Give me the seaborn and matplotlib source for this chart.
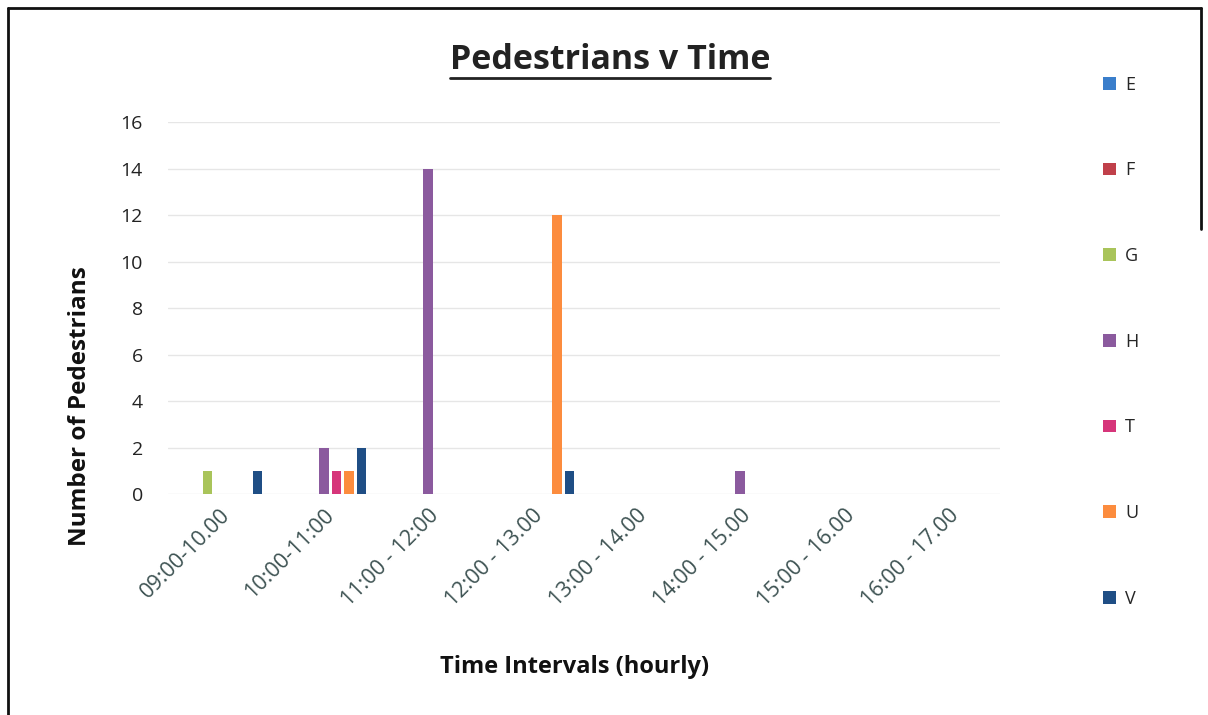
import pandas as pd
import seaborn as sns
import matplotlib.pyplot as plt
from matplotlib.lines import Line2D

# -----------------------------
# Data
# -----------------------------
intervals = ["09:00-10.00", "10:00-11:00", "11:00 - 12:00", "12:00 - 13.00",
             "13:00 - 14.00", "14:00 - 15.00", "15:00 - 16.00", "16:00 - 17.00"]
series = ["E", "F", "G", "H", "T", "U", "V"]

E = [0, 0, 0, 0, 0, 0, 0, 0]
F = [0, 0, 0, 0, 0, 0, 0, 0]
G = [1, 0, 0, 0, 0, 0, 0, 0]
H = [0, 2, 14, 0, 0, 1, 0, 0]
T = [0, 1, 0, 0, 0, 0, 0, 0]
U = [0, 1, 0, 12, 0, 0, 0, 0]
V = [1, 2, 0, 1, 0, 0, 0, 0]

colors = ["#3a7ecb", "#c0404a", "#a9c45a", "#8b5a9e", "#d6357a", "#fc8c3e", "#1f4e85"]

df = pd.DataFrame({"interval": intervals, "E": E, "F": F, "G": G, "H": H,
                   "T": T, "U": U, "V": V})
long_df = df.melt(id_vars="interval", var_name="series", value_name="count")

# -----------------------------
# Plot
# -----------------------------
sns.set_theme(style="white")
plt.rcParams["font.family"] = ["Open Sans", "DejaVu Sans"]

fig = plt.figure(figsize=(12.08, 7.15), dpi=100)
ax = fig.add_axes([0.139, 0.309, 0.689, 0.52])

sns.barplot(
    data=long_df, x="interval", y="count", hue="series",
    order=intervals, hue_order=series, palette=colors, saturation=1,
    width=0.84, gap=0.22, ax=ax, legend=True, linewidth=0,
)

ax.set_ylim(0, 16)
ax.set_yticks(range(0, 17, 2))
ax.yaxis.grid(True, color="#e6e6e6", linewidth=1)
ax.set_axisbelow(True)
sns.despine(ax=ax, left=True, bottom=True)

ax.tick_params(axis="y", labelsize=14, colors="#222222", pad=18, length=0)
ax.tick_params(axis="x", labelsize=15.5, colors="#3d5252", length=0, pad=8)
plt.setp(ax.get_xticklabels(), rotation=45, ha="right", rotation_mode="anchor")

ax.set_xlabel("Time Intervals (hourly)", fontsize=17, fontweight="bold",
              color="#111111")
ax.set_ylabel("Number of Pedestrians", fontsize=17.5, fontweight="bold",
              color="#111111")
ax.xaxis.set_label_coords(0.489, -0.433)
ax.yaxis.set_label_coords(-0.091, 0.237)

handles, labels = ax.get_legend_handles_labels()
ax.get_legend().remove()
fig.legend(handles, labels, loc="upper left", bbox_to_anchor=(0.9, 0.917),
           frameon=False, fontsize=13, labelspacing=3.75,
           handlelength=0.7, handleheight=0.7, handletextpad=0.5)

title = fig.text(0.505, 0.916, "Pedestrians v Time", ha="center", va="center",
                 fontsize=24.5, fontweight="bold", color="#222222")

# underline the title
fig.canvas.draw()
bb = title.get_window_extent(fig.canvas.get_renderer()).transformed(fig.transFigure.inverted())
fig.add_artist(Line2D([bb.x0, bb.x1], [bb.y0 - 0.001, bb.y0 - 0.001],
                      transform=fig.transFigure, color="#222222", linewidth=2))

# scanned page border
fig.add_artist(Line2D([0.007, 0.007], [0.0, 0.989], transform=fig.transFigure,
                      color="#111111", linewidth=2))
fig.add_artist(Line2D([0.007, 0.994], [0.989, 0.989], transform=fig.transFigure,
                      color="#111111", linewidth=2))
fig.add_artist(Line2D([0.994, 0.994], [0.989, 0.68], transform=fig.transFigure,
                      color="#111111", linewidth=2))

fig.savefig("out.png", dpi=100)
